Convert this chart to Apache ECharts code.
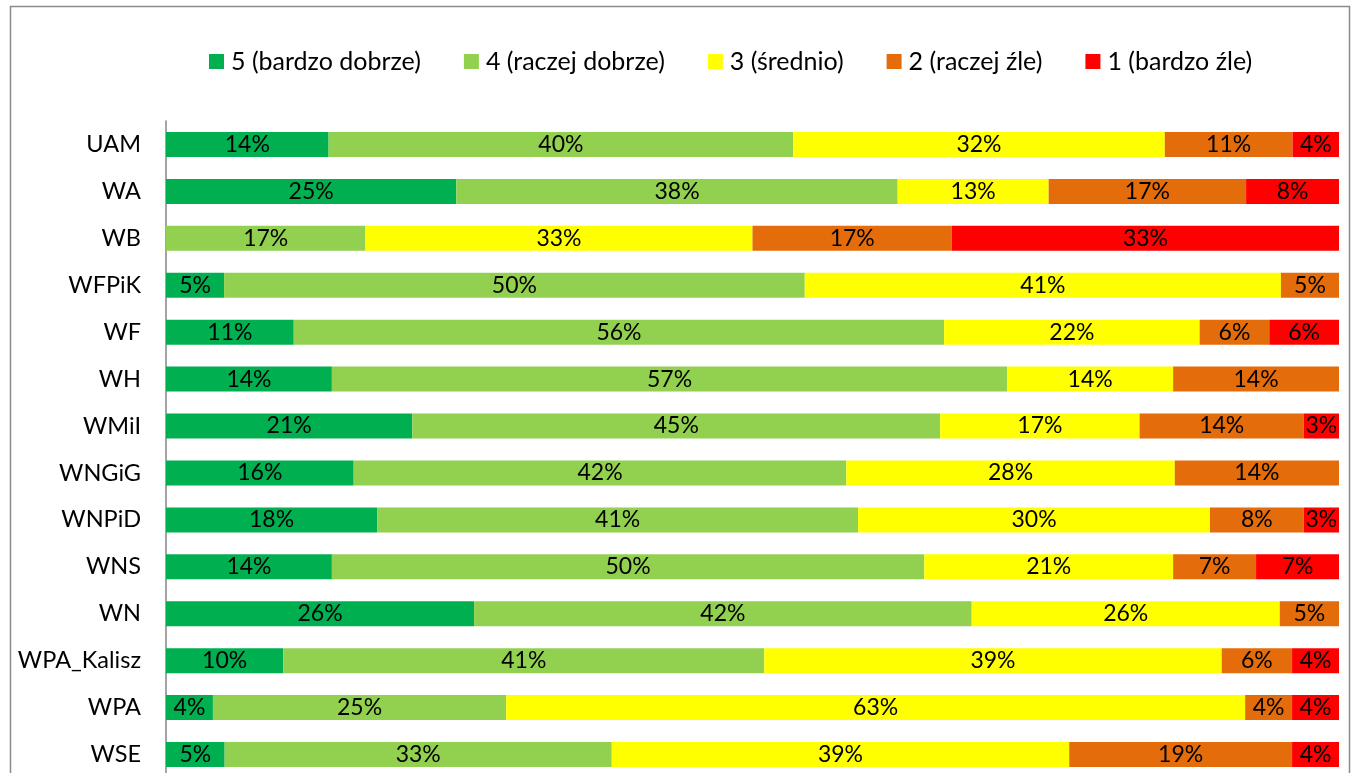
<!DOCTYPE html>
<html>
<head>
<meta charset="utf-8">
<script src="https://cdn.jsdelivr.net/npm/echarts@6/dist/echarts.min.js"></script>
<style>
  html, body { margin: 0; padding: 0; background: #ffffff; overflow: hidden; }
  /* the frame runs past the bottom edge of the window, so the canvas is taller than the view */
  #chart { width: 1360px; height: 800px; }
</style>
</head>
<body>
<div id="chart"></div>
<script>
// Units, top to bottom
const categories = ['UAM', 'WA', 'WB', 'WFPiK', 'WF', 'WH', 'WMiI', 'WNGiG', 'WNPiD', 'WNS', 'WN', 'WPA_Kalisz', 'WPA', 'WSE'];

// Share of answers per grade, in percent (0 = no answers)
const grade5 = [14, 25, 0, 5, 11, 14, 21, 16, 18, 14, 26, 10, 4, 5];
const grade4 = [40, 38, 17, 50, 56, 57, 45, 42, 41, 50, 42, 41, 25, 33];
const grade3 = [32, 13, 33, 41, 22, 14, 17, 28, 30, 21, 26, 39, 63, 39];
const grade2 = [11, 17, 17, 5, 6, 14, 14, 14, 8, 7, 5, 6, 4, 19];
const grade1 = [4, 8, 33, 0, 6, 0, 3, 0, 3, 7, 0, 4, 4, 4];

const seriesNames = ['5 (bardzo dobrze)', '4 (raczej dobrze)', '3 (średnio)', '2 (raczej źle)', '1 (bardzo źle)'];
const seriesValues = [grade5, grade4, grade3, grade2, grade1];
const seriesColors = ['#00B050', '#92D050', '#FFFF00', '#E46C0A', '#FF0000'];

const FONT = 'Lato, "Open Sans", sans-serif';

// Row totals, so each bar fills the full 100% width
const rowTotals = categories.map((_, i) => seriesValues.reduce((s, arr) => s + arr[i], 0));

const series = seriesNames.map((name, k) => ({
  name: name,
  type: 'bar',
  stack: 'total',
  barWidth: 25,
  itemStyle: { color: seriesColors[k] },
  label: {
    show: true,
    position: 'inside',
    color: '#000000',
    fontFamily: FONT,
    fontSize: 23,
    formatter: p => (seriesValues[k][p.dataIndex] > 0 ? seriesValues[k][p.dataIndex] + '%' : '')
  },
  emphasis: { disabled: true },
  data: seriesValues[k].map((v, i) => (v > 0 ? v * 100 / rowTotals[i] : null))
}));

const chart = echarts.init(document.getElementById('chart'), null, { renderer: 'canvas' });
chart.setOption({
  animation: false,
  backgroundColor: '#ffffff',
  graphic: [{
    type: 'rect',
    shape: { x: 10.5, y: 6.5, width: 1339, height: 820 },
    style: { fill: 'none', stroke: '#8a8a8a', lineWidth: 1.5 },
    silent: true
  }],
  legend: {
    top: 44,
    left: 204,
    icon: 'rect',
    itemWidth: 15,
    itemHeight: 15,
    itemGap: 43,
    textStyle: { fontFamily: FONT, fontSize: 25, color: '#000000', padding: [0, 0, 0, 2] },
    data: seriesNames
  },
  grid: { left: 166, right: 21, top: 121, height: 657, containLabel: false },
  xAxis: {
    type: 'value',
    min: 0,
    max: 100,
    show: false
  },
  yAxis: {
    type: 'category',
    inverse: true,
    data: categories,
    axisLine: { show: true, lineStyle: { color: '#868686', width: 1.5 } },
    axisTick: { show: false },
    axisLabel: { fontFamily: FONT, fontSize: 23.5, color: '#000000', margin: 25 }
  },
  series: series
});
</script>
</body>
</html>
